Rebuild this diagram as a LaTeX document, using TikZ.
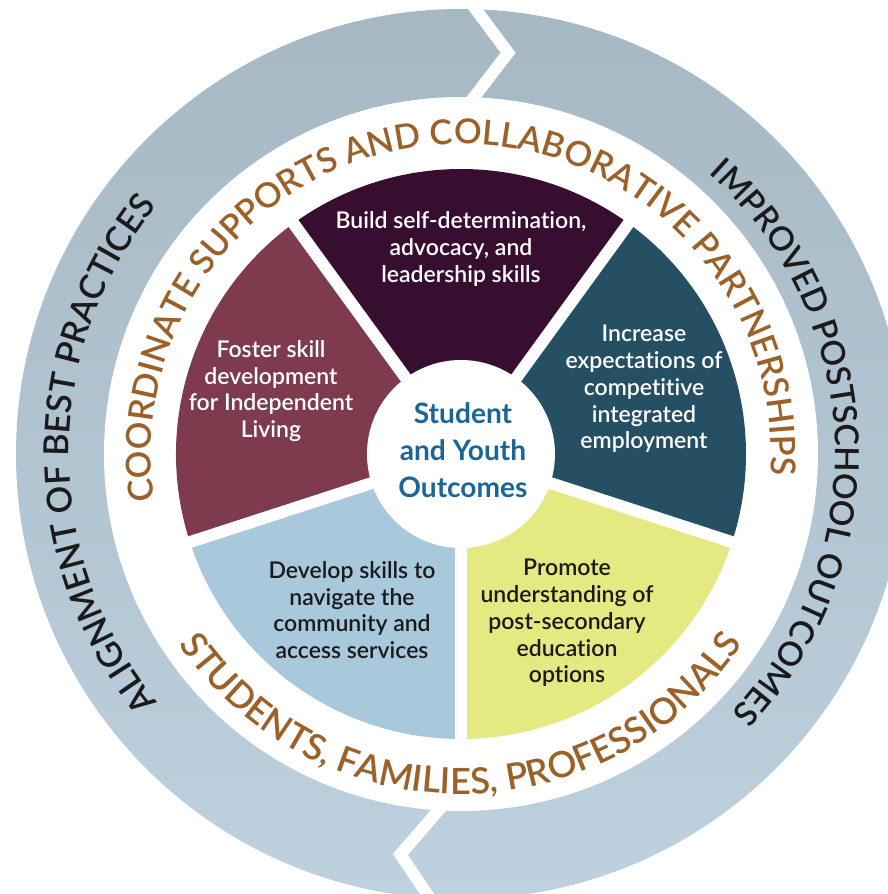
\documentclass[tikz,border=0pt]{standalone}
\usepackage{fontspec}
\setmainfont{Lato}[Ligatures=NoCommon]
\newfontfamily\wedgefont{Lato Semibold}[Ligatures=NoCommon]
\usetikzlibrary{decorations.text}

\definecolor{plum}{HTML}{380E30}
\definecolor{wine}{HTML}{7E3B4E}
\definecolor{petrol}{HTML}{254F63}
\definecolor{skyblue}{HTML}{A8C8DC}
\definecolor{paleyellow}{HTML}{E5E982}
\definecolor{bandtop}{HTML}{A5B8C4}
\definecolor{bandbottom}{HTML}{BDD1DE}
\definecolor{ringbrown}{HTML}{9C6129}
\definecolor{hubblue}{HTML}{1A6699}
\definecolor{ink}{HTML}{1A1A1A}

\newcommand\ringfont[1]{\wedgefont\fontsize{#1}{#1}\selectfont}

\tikzset{
    wedgetext/.style={align=center, font=\wedgefont\fontsize{13.1}{15.2}\selectfont},
    hubtext/.style={align=center, text=hubblue, font=\bfseries\fontsize{16}{21}\selectfont},
    gap/.style={white, line width=6.8pt},
    ringtext/.style={decorate, decoration={text along path, text align=center, text color=#1}}
}

\begin{document}
\begin{tikzpicture}[x=0.02cm, y=0.02cm]
    \useasboundingbox (-461,-440) rectangle (427,454);
    \clip (-461,-440) rectangle (427,454);

    % outer band with the two arrow joins
    \shade[top color=bandtop, bottom color=bandbottom] (0,0) circle[radius=445];
    \fill[white] (0,0) circle[radius=357];
    \draw[gap, line join=miter] (90.5:470) -- (83.3:404) -- (90:340);
    \draw[gap, line join=miter] (268.3:470) -- (261.4:405) -- (268.6:340);

    % five wedges
    \foreach \a/\col in {54/plum, 126/wine, 198/skyblue, 270/paleyellow, 342/petrol}
        \fill[\col] (0,0) -- (\a:285) arc[start angle=\a, end angle=\a+72, radius=285] -- cycle;
    \foreach \a in {54,126,198,270,342}
        \draw[gap] (0,0) -- (\a:300);
    \fill[white] (0,0) circle[radius=94];

    \node[hubtext] (hub) at (2,4) {Student\\and Youth\\Outcomes};
    \node[wedgetext, text=white] (build) at (0,205) {Build self-determination,\\advocacy, and\\leadership skills};
    \node[wedgetext, text=white] (foster) at (-190,63) {Foster skill\\development\\for Independent\\Living};
    \node[wedgetext, text=white] (increase) at (183,65) {Increase\\expectations of\\competitive\\integrated\\employment};
    \node[wedgetext, text=ink] (develop) at (-109,-156) {Develop skills to\\navigate the\\community and\\access services};
    \node[wedgetext, text=ink] (promote) at (106,-169) {Promote\\understanding of\\post-secondary\\education\\options};

    % texts round the rings
    \path[ringtext=ringbrown, decoration={text={|\ringfont{19.6}|COORDINATE SUPPORTS AND COLLABORATIVE PARTNERSHIPS}}]
        (222.4:310) arc[start angle=222.4, end angle=-37.6, radius=310];
    \path[ringtext=ringbrown, decoration={text={|\ringfont{20.6}|STUDENTS{,} FAMILIES{,} PROFESSIONALS}}]
        (190:340) arc[start angle=190, end angle=350, radius=340];
    \path[ringtext=ink, decoration={text={|\ringfont{19.6}|ALIGNMENT OF BEST PRACTICES}}]
        (240:392) arc[start angle=240, end angle=120, radius=392];
    \path[ringtext=ink, decoration={text={|\ringfont{18.9}|IMPROVED POSTSCHOOL OUTCOMES}}]
        (62.4:374) arc[start angle=62.4, end angle=-57.6, radius=374];
\end{tikzpicture}
\end{document}
